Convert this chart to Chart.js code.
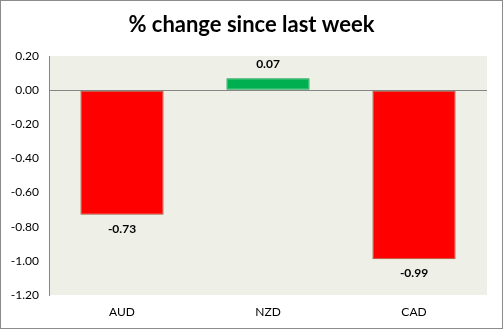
<!DOCTYPE html>
<html>
<head>
<meta charset="utf-8">
<script src="https://cdn.jsdelivr.net/npm/chart.js@4"></script>
<style>
  html, body { margin: 0; padding: 0; background: #fff; }
  #box { width: 501px; height: 327px; border: 1px solid #8c8c8c; position: relative; }
  canvas { display: block; }
</style>
</head>
<body>
<div id="box"><canvas id="chg" width="501" height="327"></canvas></div>
<script>
// weekly % change per currency
const currencies = ['AUD', 'NZD', 'CAD'];
const changes    = [-0.73, 0.07, -0.99];
const yMin = -1.2, yMax = 0.2, yStep = 0.2;
const titleText = '% change since last week';

const FONT = 'Lato, "Open Sans", sans-serif';

// light plot background + title centred on the whole canvas
const plotBg = {
  id: 'plotBg',
  beforeDraw(chart) {
    const { ctx, chartArea: a } = chart;
    ctx.save();
    ctx.fillStyle = '#eef0e8';
    ctx.fillRect(a.left, a.top, a.right - a.left, a.bottom - a.top);
    ctx.font = 'bold 22px ' + FONT;
    ctx.fillStyle = '#000';
    ctx.textAlign = 'center';
    ctx.textBaseline = 'middle';
    ctx.fillText(titleText, chart.width / 2, 24);
    ctx.restore();
  }
};

// bold value labels outside the bar end
const valueLabels = {
  id: 'valueLabels',
  afterDatasetsDraw(chart) {
    const { ctx } = chart;
    const meta = chart.getDatasetMeta(0);
    ctx.save();
    ctx.font = 'bold 12px ' + FONT;
    ctx.fillStyle = '#000';
    ctx.textAlign = 'center';
    ctx.textBaseline = 'middle';
    meta.data.forEach((bar, i) => {
      const v = changes[i];
      const y = v >= 0 ? bar.y - 14 : bar.y + 14;
      ctx.fillText(v.toFixed(2), bar.x, y);
    });
    ctx.restore();
  }
};

new Chart(document.getElementById('chg'), {
  type: 'bar',
  data: {
    labels: currencies,
    datasets: [{
      data: changes,
      backgroundColor: changes.map(v => v >= 0 ? '#00b050' : '#ff0000'),
      borderColor: changes.map(v => v >= 0 ? '#00a048' : '#a0583a'),
      borderWidth: 1,
      borderSkipped: false,
      categoryPercentage: 1,
      barPercentage: 0.57
    }]
  },
  options: {
    responsive: false,
    animation: false,
    layout: { padding: { left: 0, right: 15, top: 55, bottom: 0 } },
    plugins: {
      legend: { display: false },
      tooltip: { enabled: false },
      title: { display: false }
    },
    scales: {
      x: {
        grid: { display: false, drawTicks: false },
        border: { display: false },
        ticks: { color: '#000', font: { family: FONT, size: 12 }, padding: 10 },
        afterFit(s) { s.height = 33; }
      },
      y: {
        min: yMin,
        max: yMax,
        grid: {
          drawTicks: false,
          color: c => Math.abs(c.tick.value) < 1e-9 ? '#868686' : 'rgba(0,0,0,0)',
          lineWidth: 1
        },
        border: { display: true, color: '#868686' },
        ticks: {
          stepSize: yStep,
          color: '#000',
          font: { family: FONT, size: 12 },
          padding: 10,
          callback: v => v.toFixed(2)
        },
        afterFit(s) { s.width = 48; }
      }
    }
  },
  plugins: [plotBg, valueLabels]
});
</script>
</body>
</html>
